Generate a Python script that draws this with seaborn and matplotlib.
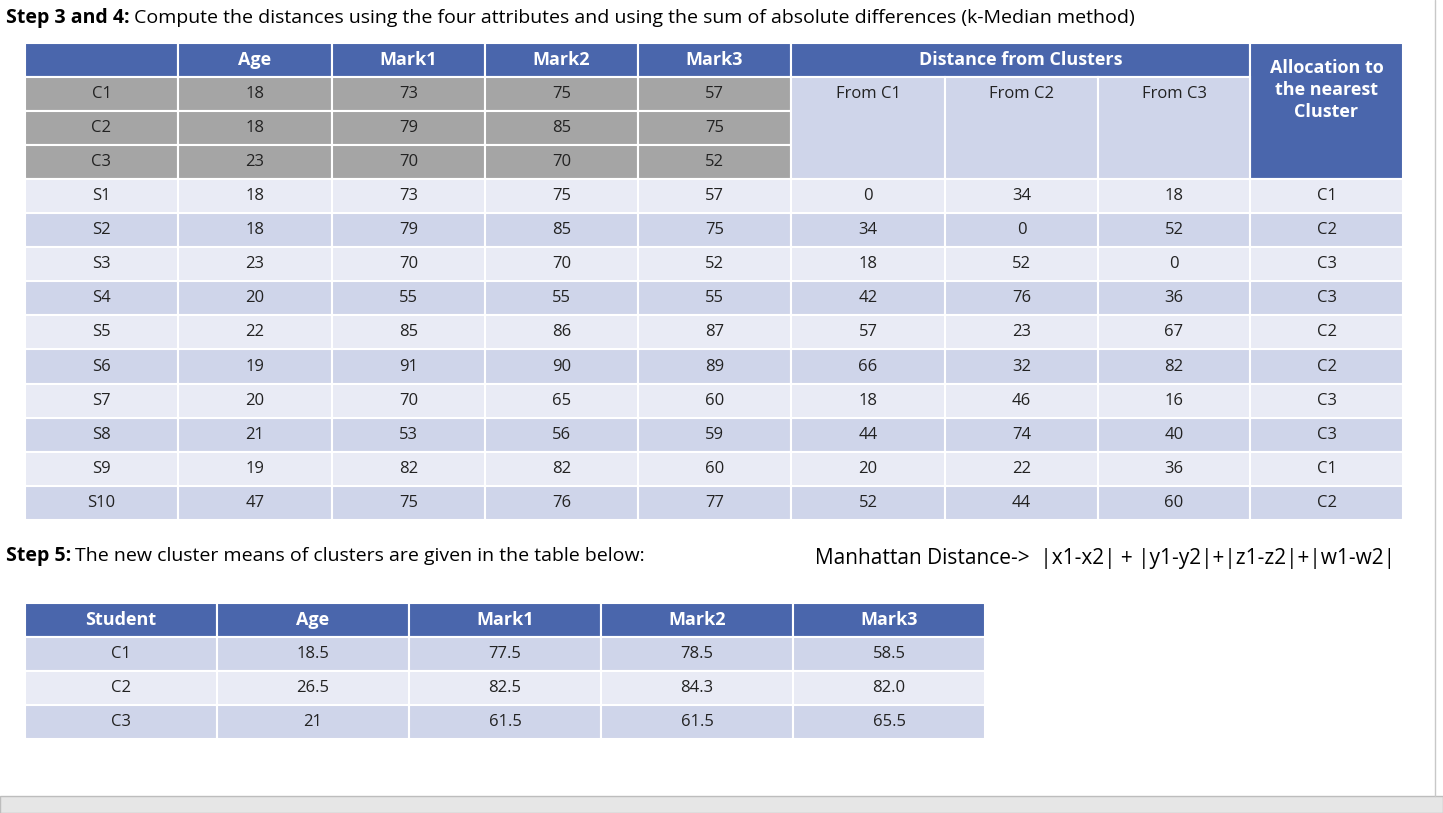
import matplotlib
matplotlib.use("Agg")
import matplotlib.pyplot as plt
from matplotlib.patches import Rectangle
import seaborn as sns

# data
clusters = ["C1", "C2", "C3"]
cluster_age = [18, 18, 23]
cluster_m1 = [73, 79, 70]
cluster_m2 = [75, 85, 70]
cluster_m3 = [57, 75, 52]

students = ["S1", "S2", "S3", "S4", "S5", "S6", "S7", "S8", "S9", "S10"]
age = [18, 18, 23, 20, 22, 19, 20, 21, 19, 47]
mark1 = [73, 79, 70, 55, 85, 91, 70, 53, 82, 75]
mark2 = [75, 85, 70, 55, 86, 90, 65, 56, 82, 76]
mark3 = [57, 75, 52, 55, 87, 89, 60, 59, 60, 77]
from_c1 = [0, 34, 18, 42, 57, 66, 18, 44, 20, 52]
from_c2 = [34, 0, 52, 76, 23, 32, 46, 74, 22, 44]
from_c3 = [18, 52, 0, 36, 67, 82, 16, 40, 36, 60]
allocation = ["C1", "C2", "C3", "C3", "C2", "C2", "C3", "C3", "C1", "C2"]

new_names = ["C1", "C2", "C3"]
new_age = ["18.5", "26.5", "21"]
new_m1 = ["77.5", "82.5", "61.5"]
new_m2 = ["78.5", "84.3", "61.5"]
new_m3 = ["58.5", "82.0", "65.5"]

BLUE = "#4a66ac"
GRAY = "#a5a5a5"
L1 = "#e9ebf5"
L2 = "#cfd5ea"
FONT = ["Open Sans", "DejaVu Sans"]

sns.set_style("white")
plt.rcParams["font.family"] = FONT

fig = plt.figure(figsize=(14.43, 8.13), dpi=100)
ax = fig.add_axes([0, 0, 1, 1])
ax.set_xlim(0, 1443)
ax.set_ylim(813, 0)
ax.axis("off")


def cell(x0, y0, x1, y1, color, text="", bold=False, tcolor="#222222", size=12, va_off=0):
    ax.add_patch(Rectangle((x0, y0), x1 - x0, y1 - y0, facecolor=color,
                           edgecolor="white", linewidth=1.5))
    if text != "":
        ax.text((x0 + x1) / 2, (y0 + y1) / 2 + va_off, str(text), ha="center", va="center",
                fontsize=size, color=tcolor, fontweight="bold" if bold else "normal")


def rich_line(x, y, bold_part, rest, size):
    t = ax.text(x, y, bold_part, fontsize=size, fontweight="bold", va="center", color="black")
    fig.canvas.draw()
    bb = t.get_window_extent().transformed(ax.transData.inverted())
    ax.text(bb.x1 + 4, y, rest, fontsize=size, va="center", color="black")


rich_line(6, 18, "Step 3 and 4:", "Compute the distances using the four attributes and using the sum of absolute differences (k-Median method)", 14)

# table 1
xs = [25, 178, 332, 485, 638, 791, 945, 1098, 1250, 1403]
y_head = (43, 77)
heads = ["", "Age", "Mark1", "Mark2", "Mark3"]
for i, h in enumerate(heads):
    cell(xs[i], y_head[0], xs[i + 1], y_head[1], BLUE, h, bold=True, tcolor="white", size=13)
cell(xs[5], y_head[0], xs[8], y_head[1], BLUE, "Distance from Clusters", bold=True, tcolor="white", size=13)
cell(xs[8], y_head[0], xs[9], 179, BLUE)
ax.text((xs[8] + xs[9]) / 2, 90, "Allocation to\nthe nearest\nCluster", ha="center", va="center",
        fontsize=13, fontweight="bold", color="white", linespacing=1.3)

ch = 34
for r, name in enumerate(clusters):
    y0 = 77 + r * ch
    vals = [name, cluster_age[r], cluster_m1[r], cluster_m2[r], cluster_m3[r]]
    for i, v in enumerate(vals):
        cell(xs[i], y0, xs[i + 1], y0 + ch, GRAY, v)
for j, lab in enumerate(["From C1", "From C2", "From C3"]):
    cell(xs[5 + j], 77, xs[6 + j], 179, L2)
    ax.text((xs[5 + j] + xs[6 + j]) / 2, 94, lab, ha="center", va="center", fontsize=12, color="#222222")

sh = (520 - 179) / len(students)
for r, name in enumerate(students):
    y0 = 179 + r * sh
    col = L1 if r % 2 == 0 else L2
    vals = [name, age[r], mark1[r], mark2[r], mark3[r], from_c1[r], from_c2[r], from_c3[r], allocation[r]]
    for i, v in enumerate(vals):
        cell(xs[i], y0, xs[i + 1], y0 + sh, col, v)

rich_line(6, 556, "Step 5:", "The new cluster means of clusters are given in the table below:", 14)
ax.text(815, 558, "Manhattan Distance->  |x1-x2| + |y1-y2|+|z1-z2|+|w1-w2|", fontsize=15,
        va="center", color="black")

# table 2
xs2 = [25, 217, 409, 601, 793, 985]
heads2 = ["Student", "Age", "Mark1", "Mark2", "Mark3"]
for i, h in enumerate(heads2):
    cell(xs2[i], 603, xs2[i + 1], 637, BLUE, h, bold=True, tcolor="white", size=13)
for r in range(3):
    y0 = 637 + r * 34
    col = L2 if r % 2 == 0 else L1
    vals = [new_names[r], new_age[r], new_m1[r], new_m2[r], new_m3[r]]
    for i, v in enumerate(vals):
        cell(xs2[i], y0, xs2[i + 1], y0 + 34, col, v)

# window frame bits
ax.add_patch(Rectangle((0, 796), 1443, 17, facecolor="#e6e6e6", edgecolor="#bdbdbd", linewidth=1))
ax.plot([1435, 1435], [0, 796], color="#c8c8c8", linewidth=1)

fig.savefig("out.png", dpi=100)
